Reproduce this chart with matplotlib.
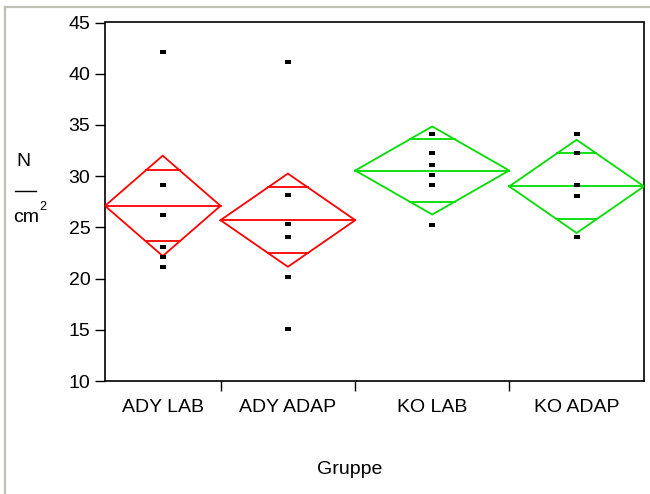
import numpy as np
import matplotlib
matplotlib.use("Agg")
import matplotlib.pyplot as plt
from matplotlib.lines import Line2D

plt.rcParams['font.family'] = ['Liberation Sans', 'DejaVu Sans']

groups = ["ADY LAB", "ADY ADAP", "KO LAB", "KO ADAP"]
group_n = [6, 7, 8, 7]
means = [27.1, 25.7, 30.55, 29.0]
ci_half = [4.9, 4.55, 4.3, 4.55]
colors = ["#ff0000", "#ff0000", "#00dd00", "#00dd00"]
points = [
    [42.1, 29.1, 26.2, 23.1, 22.1, 21.1],
    [41.1, 28.2, 25.3, 25.3, 24.1, 20.2, 15.1],
    [34.1, 34.1, 32.3, 31.1, 30.1, 29.1, 29.1, 25.2],
    [34.1, 32.3, 32.3, 29.1, 29.1, 28.1, 24.1],
]
yticks = [10, 15, 20, 25, 30, 35, 40, 45]

W, H = 650, 494
FS = 14
fig = plt.figure(figsize=(W / 100, H / 100), dpi=100)
ax = fig.add_axes([105 / W, 1 - 381 / H, (644 - 105) / W, (381 - 22.5) / H])

edges = np.concatenate([[0], np.cumsum(group_n)])
centers = (edges[:-1] + edges[1:]) / 2

rect = [(-1, -0.55), (1, -0.55), (1, 0.55), (-1, 0.55), (-1, -0.55)]
for i in range(len(groups)):
    x0, x1, xc = edges[i], edges[i + 1], centers[i]
    m, c = means[i], ci_half[i]
    col = colors[i]
    ax.plot([x0, xc, x1, xc, x0], [m, m + c, m, m - c, m], color=col, lw=1.3, zorder=3)
    ax.plot([x0, x1], [m, m], color=col, lw=1.3, zorder=3)
    hw = (x1 - x0) / 2 * (1 - 1 / np.sqrt(2))
    for s in (1, -1):
        yv = m + s * c / np.sqrt(2)
        ax.plot([xc - hw, xc + hw], [yv, yv], color=col, lw=1.3, zorder=3)
    ax.plot([xc] * len(points[i]), points[i], linestyle='none', marker=rect,
            markersize=4.5, color='black', markeredgewidth=0, zorder=4)

ax.set_xlim(edges[0], edges[-1])
ax.set_ylim(10, 45)
ax.set_yticks(yticks)
ax.set_yticklabels([str(v) for v in yticks])
ax.set_xticks(edges[1:-1])
ax.set_xticklabels([])
ax.set_xticks(centers, minor=True)
ax.set_xticklabels(groups, minor=True)
ax.tick_params(axis='x', which='major', direction='out', length=7.5, width=1.0)
ax.tick_params(axis='x', which='minor', length=0, pad=13, labelsize=FS)
ax.tick_params(axis='y', direction='out', length=7.5, width=1.0, pad=3.0, labelsize=FS)
for sp in ax.spines.values():
    sp.set_linewidth(1.2)

# Y-axis label as a fraction N / cm²
fig.text(23 / W, 1 - 162 / H, "N", ha='center', va='center', fontsize=FS)
fig.add_artist(Line2D([15 / W, 36 / W], [1 - 191 / H, 1 - 191 / H], color='black', lw=1.0))
fig.text(13 / W, 1 - 217 / H, "cm", ha='left', va='center', fontsize=FS)
fig.text(39.5 / W, 1 - 207 / H, "2", ha='left', va='center', fontsize=9)

fig.text(350 / W, 1 - 469 / H, "Gruppe", ha='center', va='center', fontsize=FS)

# gray frame lines
fig.add_artist(Line2D([5 / W, 5 / W], [0, 1 - 7 / H], color='#c0c0b6', lw=1.6))
fig.add_artist(Line2D([5 / W, 1], [1 - 7 / H, 1 - 7 / H], color='#c0c0b6', lw=1.6))

fig.savefig("out.png", dpi=100)
